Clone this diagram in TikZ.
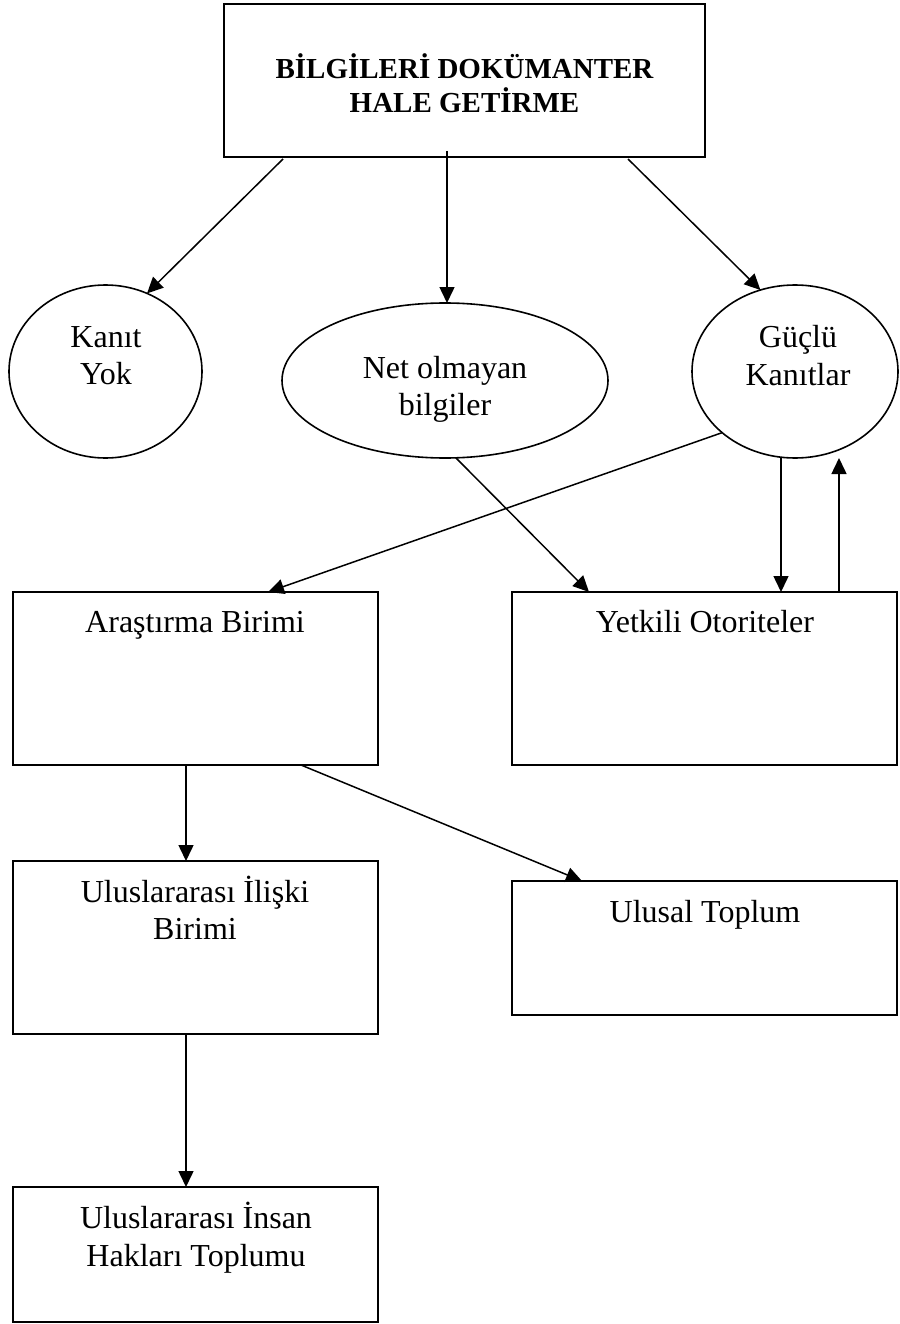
\documentclass[tikz,border=0pt]{standalone}
\usepackage{fontspec}
\setmainfont{Liberation Serif}
\usetikzlibrary{shapes.geometric,arrows.meta,calc}

\tikzset{
  boxshape/.style={draw, line width=1.8pt, rectangle, inner sep=0pt, outer sep=0pt, anchor=north west},
  ovalshape/.style={draw, line width=1.6pt, ellipse, inner sep=0pt, outer sep=0pt},
  lbl/.style={anchor=base, inner sep=0pt, font=\fontsize{32}{37}\selectfont},
  titlelbl/.style={anchor=base, inner sep=0pt, font=\bfseries\fontsize{29}{34}\selectfont},
  conn/.style={line width=1.5pt, -{Triangle[length=16pt,width=15pt]}},
}

\begin{document}
\begin{tikzpicture}[x=1pt, y=-1pt]
\useasboundingbox (0,0) rectangle (899,1324);

% frames
\node[boxshape, minimum width=481pt, minimum height=153pt] (top) at (224,4) {};
\node[boxshape, minimum width=365pt, minimum height=173pt] (ar) at (13,592) {};
\node[boxshape, minimum width=385pt, minimum height=173pt] (yo) at (512,592) {};
\node[boxshape, minimum width=365pt, minimum height=173pt] (ui) at (13,861) {};
\node[boxshape, minimum width=385pt, minimum height=134pt] (ut) at (512,881) {};
\node[boxshape, minimum width=365pt, minimum height=135pt] (ih) at (13,1187) {};

% ovals
\node[ovalshape, minimum width=193pt, minimum height=173pt] (ky) at (105.5,371.5) {};
\node[ovalshape, minimum width=326pt, minimum height=155pt] (net) at (445,380.5) {};
\node[ovalshape, minimum width=206pt, minimum height=173pt] (gk) at (795,371.5) {};

% labels
\node[titlelbl] (t1) at (464.5,79) {BİLGİLERİ DOKÜMANTER};
\node[titlelbl] (t2) at (464.5,113) {HALE GETİRME};
\node[lbl] (ky1) at (106,347) {Kanıt};
\node[lbl] (ky2) at (106,384) {Yok};
\node[lbl] (net1) at (445,378) {Net olmayan};
\node[lbl] (net2) at (445,415) {bilgiler};
\node[lbl] (gk1) at (798,347) {Güçlü};
\node[lbl] (gk2) at (798,385) {Kanıtlar};
\node[lbl] (ar1) at (195,632) {Araştırma Birimi};
\node[lbl] (yo1) at (705,632) {Yetkili Otoriteler};
\node[lbl] (ui1) at (195,902) {Uluslararası İlişki};
\node[lbl] (ui2) at (195,939) {Birimi};
\node[lbl] (ut1) at (705,922) {Ulusal Toplum};
\node[lbl] (ih1) at (196,1228) {Uluslararası İnsan};
\node[lbl] (ih2) at (196,1266) {Hakları Toplumu};

% connectors
\draw[conn] ($(top.south west)+(59,2)$) -- (ky.62);
\draw[conn] ($(top.south)+(-17.5,-6)$) -- ($(net.north)+(2,0)$);
\draw[conn] ($(top.south west)+(404,2)$) -- (gk.113);
\draw[conn] (gk.220) -- ($(ar.north west)+(255,0)$);
\draw[conn] (net.-82) -- ($(yo.north west)+(77,0)$);
\draw[conn] ($(gk.south)+(-14,0)$) -- ($(yo.north west)+(269,0)$);
\draw[conn] ($(yo.north west)+(327,0)$) -- ($(gk.south)+(44,0)$);
\draw[conn] ($(ar.south)+(-9.5,0)$) -- ($(ui.north)+(-9.5,0)$);
\draw[conn] ($(ar.south west)+(288,0)$) -- ($(ut.north west)+(70,0)$);
\draw[conn] ($(ui.south)+(-9.5,0)$) -- ($(ih.north)+(-9.5,0)$);
\end{tikzpicture}
\end{document}
